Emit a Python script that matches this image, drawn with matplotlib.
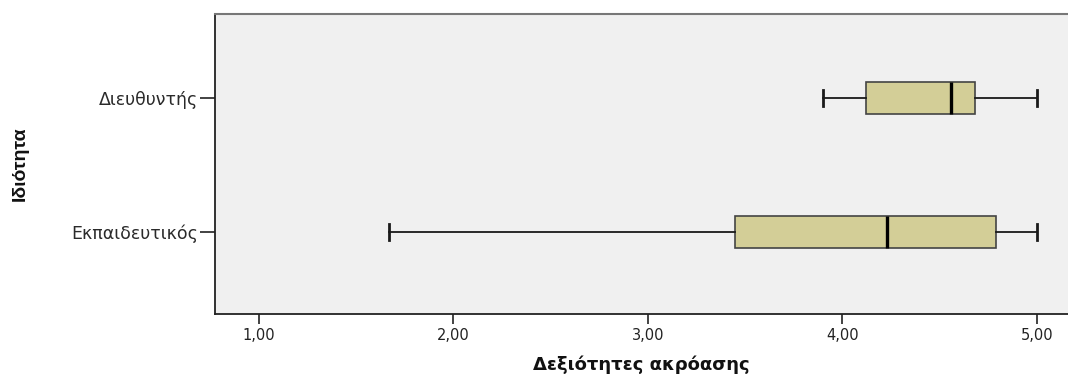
import matplotlib
matplotlib.use("Agg")
import matplotlib.pyplot as plt

categories = ["Εκπαιδευτικός", "Διευθυντής"]
whisker_low = [1.67, 3.90]
q1 = [3.45, 4.12]
median = [4.23, 4.56]
q3 = [4.79, 4.68]
whisker_high = [5.00, 5.00]
xticks = [1.0, 2.0, 3.0, 4.0, 5.0]
xtick_labels = ["1,00", "2,00", "3,00", "4,00", "5,00"]

fig = plt.figure(figsize=(10.68, 3.74), dpi=100)
fig.patch.set_facecolor("white")
ax = fig.add_axes([215/1068, 1-314/374, 1-215/1068, 300/374])
ax.set_facecolor("#F0F0F0")

stats = []
for i, c in enumerate(categories):
    stats.append(dict(label=c, whislo=whisker_low[i], q1=q1[i], med=median[i],
                      q3=q3[i], whishi=whisker_high[i], fliers=[]))

ax.bxp(stats, positions=[0, 1], vert=False, widths=0.246, patch_artist=True,
       showfliers=False, capwidths=0.12,
       boxprops=dict(facecolor="#D3CE97", edgecolor="#444444", linewidth=1.2),
       medianprops=dict(color="black", linewidth=2.4, solid_capstyle="butt"),
       whiskerprops=dict(color="#1a1a1a", linewidth=1.3),
       capprops=dict(color="#1a1a1a", linewidth=2.0))

ax.set_xlim(0.774, 5.16)
ax.set_ylim(-0.612, 1.627)
ax.set_xticks(xticks)
ax.set_xticklabels(xtick_labels, fontsize=10.5, family="DejaVu Sans", color="#222222")
ax.set_yticks([0, 1])
ax.set_yticklabels(categories, fontsize=12.5, family="DejaVu Sans", color="#2a2a2a")
ax.tick_params(axis="x", length=7, width=1.2, pad=3, color="#222222")
ax.tick_params(axis="y", length=11, width=1.2, pad=1, color="#222222")

for s in ["left", "bottom"]:
    ax.spines[s].set_color("#222222")
    ax.spines[s].set_linewidth(1.3)
ax.spines["top"].set_color("#777777")
ax.spines["top"].set_linewidth(1.5)
ax.spines["right"].set_visible(False)

ax.set_xlabel("Δεξιότητες ακρόασης", fontsize=13, fontweight="bold",
              family="DejaVu Sans", labelpad=9, color="#111111")
ax.set_ylabel("Ιδιότητα", fontsize=14, fontweight="bold",
              family=["Liberation Sans Narrow", "Liberation Sans"], color="#111111")
ax.yaxis.set_label_coords(-186/853, 0.5)

fig.savefig("out.png", dpi=100, facecolor="white")
